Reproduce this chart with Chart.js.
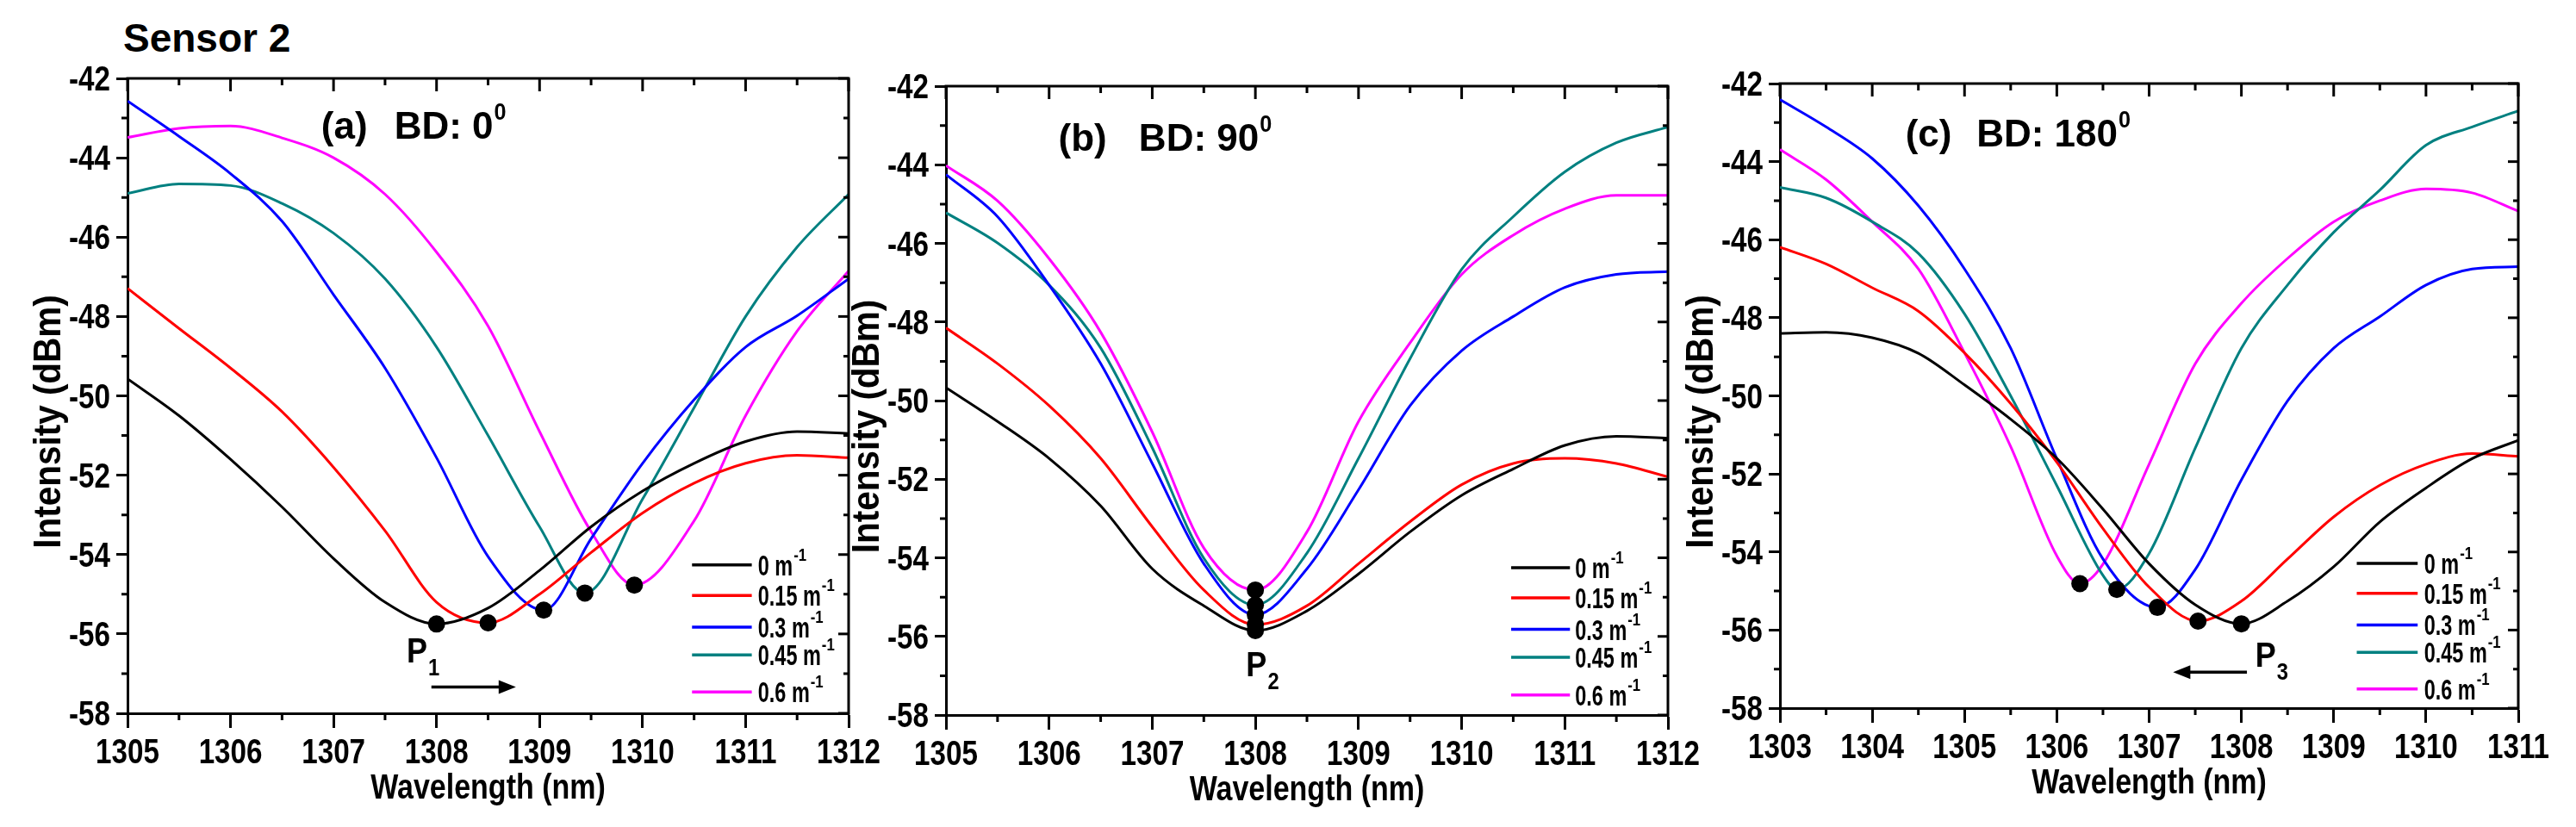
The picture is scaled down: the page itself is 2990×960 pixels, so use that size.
<!DOCTYPE html>
<html>
<head>
<meta charset="utf-8">
<title>Sensor 2 - bend direction</title>
<script src="https://cdn.jsdelivr.net/npm/chart.js@4.4.1/dist/chart.umd.min.js"></script>
<style>
  body { margin: 0; width: 2990px; height: 960px; background: #fff; position: relative; overflow: hidden; }
  canvas { position: absolute; top: 0; }
  #sensor { position: absolute; left: 143px; top: 21px; font: bold 46px 'Liberation Sans', Arial, sans-serif; line-height: 46px; color: #000; }
</style>
</head>
<body>
<div id="sensor">Sensor 2</div>
<script>
//----------------------
// Data
//----------------------

const curvatures = ['0 m', '0.15 m', '0.3 m', '0.45 m', '0.6 m'];
const lineColors = ['#000000', '#ff0000', '#0000ff', '#008080', '#ff00ff'];

// (a) BD: 0 deg
const waveA = [1305, 1305.5, 1306, 1306.5, 1307, 1307.5, 1308, 1308.5, 1309, 1309.5, 1310, 1310.5, 1311, 1311.5, 1312];
const a0  = [-49.57, -50.5, -51.6, -52.8, -54.1, -55.2, -55.75, -55.35, -54.4, -53.3, -52.4, -51.7, -51.15, -50.9, -50.95];
const a15 = [-47.29, -48.3, -49.3, -50.4, -51.8, -53.4, -55.2, -55.72, -55.0, -53.95, -52.95, -52.2, -51.7, -51.5, -51.56];
const a30 = [-42.57, -43.46, -44.4, -45.6, -47.45, -49.3, -51.56, -54.05, -55.4, -53.6, -51.7, -50.1, -48.77, -47.98, -47.05];
const a45 = [-44.9, -44.66, -44.7, -45.15, -45.9, -47.05, -48.77, -51.0, -53.3, -54.88, -52.6, -50.3, -48.0, -46.25, -44.92];
const a60 = [-43.49, -43.26, -43.2, -43.5, -44.0, -44.92, -46.38, -48.24, -50.9, -53.42, -54.75, -53.15, -50.5, -48.37, -46.85];
const dipWaveA = [1308.0, 1308.5, 1309.04, 1309.44, 1309.92];
const dipPowA  = [-55.75, -55.72, -55.4, -54.97, -54.77];

// (b) BD: 90 deg
const waveB = [1305, 1305.5, 1306, 1306.5, 1307, 1307.5, 1308, 1308.5, 1309, 1309.5, 1310, 1310.5, 1311, 1311.5, 1312];
const b0  = [-49.67, -50.53, -51.47, -52.68, -54.28, -55.22, -55.85, -55.35, -54.41, -53.34, -52.41, -51.74, -51.14, -50.91, -50.96];
const b15 = [-48.15, -49.06, -50.13, -51.47, -53.21, -54.82, -55.7, -55.22, -54.15, -53.08, -52.14, -51.6, -51.47, -51.6, -51.94];
const b30 = [-44.25, -45.32, -47.06, -49.06, -51.6, -54.15, -55.45, -54.28, -52.27, -50.13, -48.73, -47.86, -47.12, -46.79, -46.72];
const b45 = [-45.22, -45.99, -47.06, -48.66, -51.2, -54.01, -55.2, -53.88, -51.47, -48.93, -46.66, -45.32, -44.18, -43.44, -43.04];
const b60 = [-44.02, -44.92, -46.39, -48.26, -50.8, -53.75, -54.82, -53.34, -50.53, -48.53, -46.79, -45.79, -45.12, -44.78, -44.78];
const dipWaveB = [1308, 1308, 1308, 1308, 1308];
const dipPowB  = [-55.85, -55.7, -55.45, -55.2, -54.82];

// (c) BD: 180 deg
const waveC = [1303, 1303.5, 1304, 1304.5, 1305, 1305.5, 1306, 1306.5, 1307, 1307.5, 1308, 1308.5, 1309, 1309.5, 1310, 1310.5, 1311];
const c0  = [-48.4, -48.37, -48.51, -48.91, -49.72, -50.6, -51.6, -52.9, -54.3, -55.35, -55.84, -55.26, -54.38, -53.23, -52.36, -51.61, -51.14];
const c15 = [-46.19, -46.62, -47.23, -47.83, -48.9, -50.2, -51.7, -53.4, -54.9, -55.77, -55.26, -54.18, -53.1, -52.29, -51.75, -51.48, -51.55];
const c30 = [-42.41, -43.11, -43.92, -45.13, -46.75, -48.78, -51.61, -54.18, -55.42, -54.45, -52.15, -50.13, -48.78, -47.97, -47.16, -46.75, -46.69];
const c45 = [-44.66, -44.93, -45.54, -46.35, -47.9, -50.0, -52.3, -54.6, -54.04, -51.34, -48.78, -47.16, -45.81, -44.73, -43.58, -43.11, -42.7];
const c60 = [-43.69, -44.46, -45.54, -46.75, -48.9, -51.3, -54.1, -54.31, -51.75, -49.18, -47.63, -46.48, -45.54, -45.0, -44.7, -44.8, -45.27];
const dipWaveC = [1308.0, 1307.53, 1307.09, 1306.65, 1306.25];
const dipPowC  = [-55.84, -55.77, -55.42, -54.96, -54.81];

const intensityRange = [-58, -42];

//----------------------
// Fonts
//----------------------

const FONT = "'Liberation Sans', Arial, sans-serif";

//----------------------
// Small drawing helpers
//----------------------

function squeeze(ctx, text, x, y, size, sx) { // bold text squeezed horizontally, returns drawn width
    ctx.save();
    ctx.font = 'bold ' + size + 'px ' + FONT;
    ctx.translate(x, y);
    ctx.scale(sx, 1);
    ctx.fillText(text, 0, 0);
    const w = ctx.measureText(text).width * sx;
    ctx.restore();
    return w;
}

function arrow(ctx, x0, x1, y) {
    const dir = Math.sign(x1 - x0);
    ctx.strokeStyle = '#000';
    ctx.fillStyle = '#000';
    ctx.lineWidth = 3.5;
    ctx.beginPath();
    ctx.moveTo(x0, y);
    ctx.lineTo(x1 - dir * 14, y);
    ctx.stroke();
    ctx.beginPath();
    ctx.moveTo(x1, y);
    ctx.lineTo(x1 - dir * 20, y - 8);
    ctx.lineTo(x1 - dir * 20, y + 8);
    ctx.closePath();
    ctx.fill();
}

// frame, minor ticks, axis text, legend and notes
const decoPlugin = {
    id: 'deco',
    afterDraw(chart, args, o) {
        const ctx = chart.ctx;
        const xs = chart.scales.x, ys = chart.scales.y;
        const {left, right, top, bottom} = chart.chartArea;
        const X = v => xs.getPixelForValue(v);
        const Y = v => ys.getPixelForValue(v);

        ctx.save();
        ctx.strokeStyle = '#000';
        ctx.fillStyle = '#000';
        ctx.lineWidth = 3;
        ctx.beginPath();
        ctx.moveTo(left - 1.5, top);
        ctx.lineTo(right, top);
        ctx.lineTo(right, bottom + 1.5);
        ctx.stroke();

        for (let v = xs.min; v <= xs.max + 1e-6; v += 0.5) {
            const px = X(v);
            const major = Math.abs(v - Math.round(v)) < 1e-6;
            ctx.beginPath();
            ctx.moveTo(px, top);
            ctx.lineTo(px, top + (major ? 15 : 8));
            if (!major) {
                ctx.moveTo(px, bottom);
                ctx.lineTo(px, bottom + 8);
            }
            ctx.stroke();
        }
        for (let v = ys.min; v <= ys.max; v += 1) {
            const py = Y(v);
            const major = v % 2 === 0;
            ctx.beginPath();
            ctx.moveTo(right, py);
            ctx.lineTo(right - (major ? 12 : 6), py);
            if (!major) {
                ctx.moveTo(left, py);
                ctx.lineTo(left - 7, py);
            }
            ctx.stroke();
        }

        // tick labels, narrow bold like the original
        ctx.textBaseline = 'alphabetic';
        ctx.textAlign = 'center';
        xs.ticks.forEach(t => squeeze(ctx, String(t.value), X(t.value), bottom + 58, 40, 0.83));
        ctx.textAlign = 'right';
        ys.ticks.forEach(t => squeeze(ctx, String(t.value), left - 20, Y(t.value) + 14, 40, 0.83));

        // axis titles
        ctx.textAlign = 'center';
        squeeze(ctx, xs.options.title.text, (left + right) / 2, bottom + 99, 40, 0.85);
        ctx.save();
        ctx.translate(left - 78, (top + bottom) / 2 + 30);
        ctx.rotate(-Math.PI / 2);
        squeeze(ctx, ys.options.title.text, 0, 0, 44, 0.92);
        ctx.restore();

        // legend
        const lg = o.legend;
        ctx.textAlign = 'left';
        lg.rows.forEach((r, i) => {
            const py = Y(r);
            ctx.strokeStyle = lineColors[i];
            ctx.lineWidth = 3.5;
            ctx.beginPath();
            ctx.moveTo(X(lg.x0), py);
            ctx.lineTo(X(lg.x1), py);
            ctx.stroke();
            const w = squeeze(ctx, curvatures[i], X(lg.tx), py + 12, 34, 0.69);
            squeeze(ctx, '-1', X(lg.tx) + w + 1, py - 5, 21, 0.8);
        });
        ctx.strokeStyle = '#000';

        // panel tag and bend direction
        ctx.font = 'bold 44px ' + FONT;
        ctx.fillText(o.tag.text, X(o.tag.x), Y(o.tag.y));
        const bw = squeeze(ctx, o.bd.text, X(o.bd.x), Y(o.tag.y), 44, 1);
        squeeze(ctx, '0', X(o.bd.x) + bw + 1, Y(o.tag.y) - 22, 28, 0.9);

        // peak label P with subscript
        const pw = squeeze(ctx, 'P', X(o.peak.x), Y(o.peak.y), 40, 0.9);
        squeeze(ctx, o.peak.sub, X(o.peak.x) + pw + 1, Y(o.peak.y) + 15, 28, 0.85);

        if (o.arrow) arrow(ctx, X(o.arrow.from), X(o.arrow.to), Y(o.arrow.y));
        ctx.restore();
    }
};

//----------------------
// Panels
//----------------------

function lineData(wave, power, dx, dy) { // grid points plus the marked dip
    const pts = wave.map((x, i) => ({x: x, y: power[i]})).filter(p => Math.abs(p.x - dx) > 0.12);
    pts.push({x: dx, y: dy});
    return pts.sort((p, q) => p.x - q.x);
}

function makePanel(box, wave, curves, dipWave, dipPow, deco) {
    const canvas = document.createElement('canvas');
    canvas.width = box.cw;
    canvas.height = 960;
    canvas.style.left = box.cl + 'px';
    document.body.appendChild(canvas);

    const datasets = [{
        type: 'scatter',
        data: dipWave.map((x, i) => ({x: x, y: dipPow[i]})),
        pointRadius: 10,
        pointBackgroundColor: '#000',
        pointBorderWidth: 0,
        showLine: false,
        order: 0
    }];
    curves.forEach((c, i) => {
        datasets.push({
            type: 'line',
            data: lineData(wave, c, dipWave[i], dipPow[i]),
            borderColor: lineColors[i],
            borderWidth: 3,
            pointRadius: 0,
            cubicInterpolationMode: 'monotone',
            order: 1
        });
    });

    return new Chart(canvas, {
        type: 'line',
        data: {datasets: datasets},
        plugins: [decoPlugin],
        options: {
            responsive: false,
            animation: false,
            devicePixelRatio: 1,
            events: [],
            layout: {padding: {top: box.T, right: box.cl + box.cw - box.R, left: 0, bottom: 0}},
            plugins: {legend: {display: false}, tooltip: {enabled: false}, deco: deco},
            scales: {
                x: {
                    type: 'linear',
                    min: wave[0],
                    max: wave[wave.length - 1],
                    ticks: {stepSize: 1, display: false},
                    grid: {drawOnChartArea: false, tickLength: 17, tickWidth: 3, tickColor: '#000'},
                    border: {color: '#000', width: 3},
                    title: {display: false, text: 'Wavelength (nm)'},
                    afterFit: s => { s.height = 960 - box.B; s.paddingLeft = 0; s.paddingRight = 0; }
                },
                y: {
                    min: intensityRange[0],
                    max: intensityRange[1],
                    ticks: {stepSize: 2, display: false},
                    grid: {drawOnChartArea: false, tickLength: 13, tickWidth: 3, tickColor: '#000'},
                    border: {color: '#000', width: 3},
                    title: {display: false, text: 'Intensity (dBm)'},
                    afterFit: s => { s.width = box.L - box.cl; s.paddingTop = 0; s.paddingBottom = 0; }
                }
            }
        }
    });
}

makePanel({cl: 0, cw: 1040, L: 148, T: 91, R: 985, B: 828},
    waveA, [a0, a15, a30, a45, a60], dipWaveA, dipPowA, {
        legend: {x0: 1310.48, x1: 1311.06, tx: 1311.12, rows: [-54.26, -55.03, -55.83, -56.53, -57.46]},
        tag: {text: '(a)', x: 1306.88, y: -43.53},
        bd: {text: 'BD: 0', x: 1307.59},
        peak: {x: 1307.71, y: -56.71, sub: '1'},
        arrow: {from: 1307.95, to: 1308.77, y: -57.34}
    });

makePanel({cl: 975, cw: 1000, L: 1098, T: 100, R: 1936, B: 830},
    waveB, [b0, b15, b30, b45, b60], dipWaveB, dipPowB, {
        legend: {x0: 1310.48, x1: 1311.05, tx: 1311.1, rows: [-54.25, -55.02, -55.82, -56.53, -57.49]},
        tag: {text: '(b)', x: 1306.09, y: -43.65},
        bd: {text: 'BD: 90', x: 1306.87},
        peak: {x: 1307.91, y: -57.02, sub: '2'}
    });

makePanel({cl: 1940, cw: 1050, L: 2066, T: 97, R: 2923, B: 822},
    waveC, [c0, c15, c30, c45, c60], dipWaveC, dipPowC, {
        legend: {x0: 1309.25, x1: 1309.91, tx: 1309.98, rows: [-54.29, -55.06, -55.87, -56.57, -57.51]},
        tag: {text: '(c)', x: 1304.36, y: -43.62},
        bd: {text: 'BD: 180', x: 1305.13},
        peak: {x: 1308.15, y: -56.95, sub: '3'},
        arrow: {from: 1308.06, to: 1307.26, y: -57.08}
    });
</script>
</body>
</html>
